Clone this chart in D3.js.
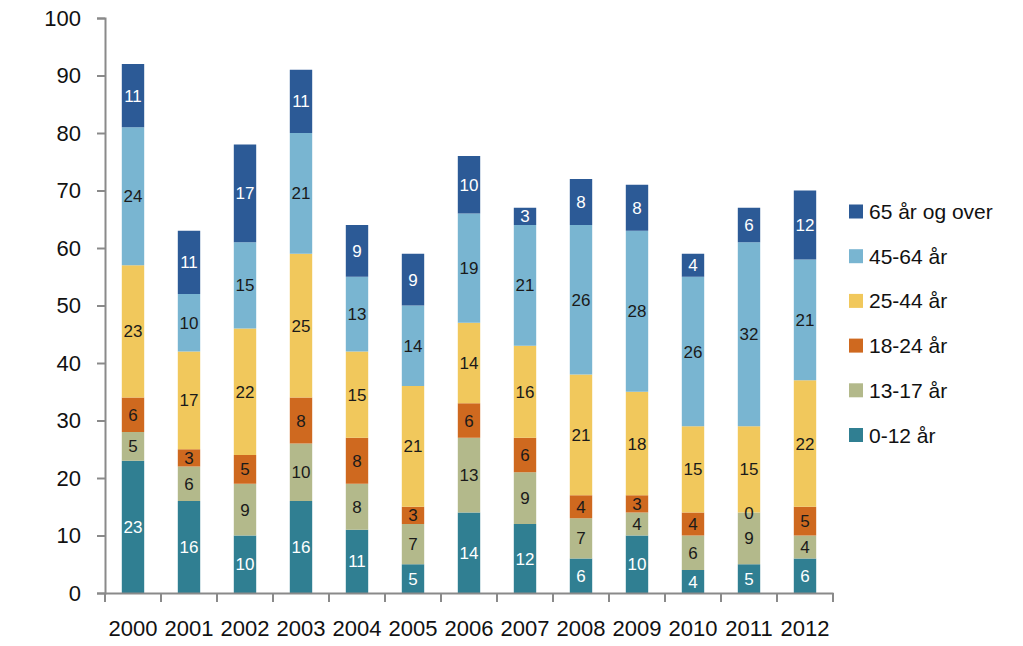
<!DOCTYPE html>
<html>
<head>
<meta charset="utf-8">
<script src="https://cdn.jsdelivr.net/npm/d3@7"></script>
<style>
  html, body { margin: 0; padding: 0; background: #ffffff; }
  svg { display: block; font-family: "Liberation Sans", Arial, sans-serif; }
</style>
</head>
<body>
<svg id="chart" width="1023" height="646"></svg>
<script>
const years = ["2000","2001","2002","2003","2004","2005","2006","2007","2008","2009","2010","2011","2012"];
const seriesNames = ["0-12 år","13-17 år","18-24 år","25-44 år","45-64 år","65 år og over"];
const age0_12  = [23,16,10,16,11, 5,14,12, 6,10, 4, 5, 6];
const age13_17 = [ 5, 6, 9,10, 8, 7,13, 9, 7, 4, 6, 9, 4];
const age18_24 = [ 6, 3, 5, 8, 8, 3, 6, 6, 4, 3, 4, 0, 5];
const age25_44 = [23,17,22,25,15,21,14,16,21,18,15,15,22];
const age45_64 = [24,10,15,21,13,14,19,21,26,28,26,32,21];
const age65    = [11,11,17,11, 9, 9,10, 3, 8, 8, 4, 6,12];
const yTicks = [0,10,20,30,40,50,60,70,80,90,100];

const seriesValues = [age0_12, age13_17, age18_24, age25_44, age45_64, age65];
const colors = ["#307f92","#b3b98b","#cf691f","#f1c85c","#79b5d1","#2c5a96"];
const labelColors = ["#ffffff","#1a1a1a","#1a1a1a","#1a1a1a","#1a1a1a","#ffffff"];

const rows = years.map((y, i) => {
  const r = { year: y };
  seriesNames.forEach((s, k) => r[s] = seriesValues[k][i]);
  return r;
});

const svg = d3.select("#chart");
const axisColor = "#8a8a8a";

const x = d3.scaleBand().domain(years).range([105, 833]).paddingInner(0.6).paddingOuter(0.3);
const xb = d3.scaleBand().domain(years).range([105, 833]);
const y = d3.scaleLinear().domain([0, 100]).range([593, 18]);

const stack = d3.stack().keys(seriesNames);
const stacked = stack(rows);

const g = svg.append("g");
stacked.forEach((layer, k) => {
  const lg = g.append("g");
  lg.selectAll("rect").data(layer).enter().append("rect")
    .attr("x", d => x(d.data.year))
    .attr("width", x.bandwidth())
    .attr("y", d => y(d[1]))
    .attr("height", d => y(d[0]) - y(d[1]))
    .attr("fill", colors[k]);
});
stacked.forEach((layer, k) => {
  g.append("g").selectAll("text").data(layer).enter().append("text")
    .attr("x", d => x(d.data.year) + x.bandwidth() / 2)
    .attr("y", d => y((d[0] + d[1]) / 2))
    .attr("dy", "0.36em")
    .attr("text-anchor", "middle")
    .attr("font-size", 17)
    .attr("fill", labelColors[k])
    .text(d => d[1] - d[0]);
});

// Y axis
const yAxis = svg.append("g").attr("transform", "translate(105,0)")
  .call(d3.axisLeft(y).tickValues(yTicks).tickSize(8).tickPadding(16));
yAxis.select(".domain").attr("stroke", axisColor).attr("stroke-width", 2);
yAxis.selectAll(".tick line").attr("stroke", axisColor).attr("stroke-width", 2);
yAxis.selectAll(".tick text").attr("font-size", 22).attr("fill", "#111")
  .attr("font-family", "Liberation Sans, Arial, sans-serif");

// X axis
const xAxis = svg.append("g").attr("transform", "translate(0,593)")
  .call(d3.axisBottom(xb).tickSize(0).tickPadding(27));
xAxis.select(".domain").attr("stroke", axisColor).attr("stroke-width", 2);
xAxis.selectAll(".tick text").attr("font-size", 22).attr("fill", "#111")
  .attr("font-family", "Liberation Sans, Arial, sans-serif");
// boundary tick marks
const bounds = years.map(yv => xb(yv)).concat([xb(years[years.length - 1]) + xb.bandwidth()]);
svg.append("g").selectAll("line").data(bounds).enter().append("line")
  .attr("x1", d => d).attr("x2", d => d)
  .attr("y1", 593).attr("y2", 602)
  .attr("stroke", axisColor).attr("stroke-width", 2);

// Legend (top to bottom: 65+ ... 0-12)
const legendOrder = d3.range(seriesNames.length).reverse();
const legend = svg.append("g");
legendOrder.forEach((k, i) => {
  const cy = 211.5 + i * 44.7;
  legend.append("rect").attr("x", 849).attr("y", cy - 7).attr("width", 14).attr("height", 14)
    .attr("fill", colors[k]);
  legend.append("text").attr("x", 869).attr("y", cy).attr("dy", "0.36em")
    .attr("font-size", 21).attr("fill", "#111").text(seriesNames[k]);
});
</script>
</body>
</html>
